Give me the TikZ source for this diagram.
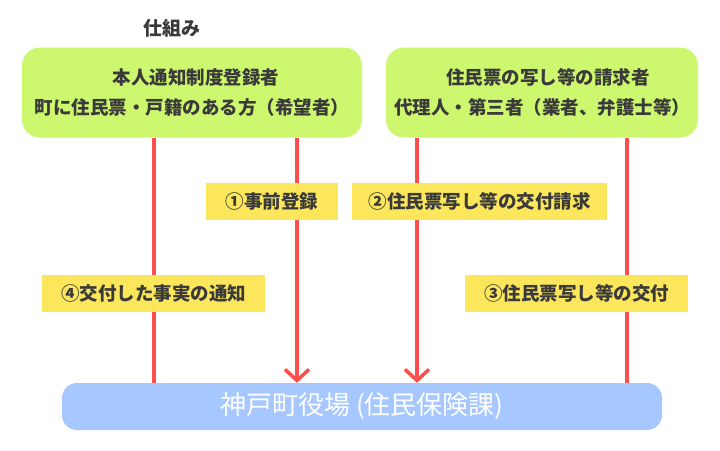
\documentclass[tikz,border=0pt]{standalone}
\usepackage{fontspec}
\setmainfont{Noto Sans CJK JP}
\usetikzlibrary{arrows.meta}
\definecolor{boxgreen}{HTML}{CCF76E}
\definecolor{labelyellow}{HTML}{FBE65C}
\definecolor{linered}{HTML}{FF4D4D}
\definecolor{boxblue}{HTML}{A6C8FF}
\definecolor{txt}{HTML}{3A3A3A}
\begin{document}
\begin{tikzpicture}[x=1pt,y=-1pt,
  greenbox/.style={fill=boxgreen, rounded corners=18pt, minimum height=90pt,
    align=center, font=\bfseries\fontsize{18.5}{30}\selectfont, text=txt, inner sep=0pt},
  bluebox/.style={fill=boxblue, rounded corners=15pt, minimum height=47pt,
    minimum width=600pt, font=\fontsize{26}{28}\selectfont, text=white, inner sep=0pt},
  labelbox/.style={fill=labelyellow, minimum height=37pt, inner sep=0pt,
    font=\bfseries\fontsize{18.5}{20}\selectfont, text=txt},
  redline/.style={draw=linered, line width=3.5pt},
  redarrow/.style={redline, -{Straight Barb[length=11pt,width=24pt]}},
  titletext/.style={font=\bfseries\fontsize{19}{22}\selectfont, text=txt}
]
\useasboundingbox (0,0) rectangle (720,450);
\node[titletext] (title) at (172,28) {仕組み};
\node[greenbox, minimum width=340pt] (gl) at (192,92.5) {\hspace{8pt}本人通知制度登録者\\町に住民票・戸籍のある方（希望者）};
\node[greenbox, minimum width=312pt] (gr) at (542,92.5) {\hspace{12pt}住民票の写し等の請求者\\代理人・第三者（業者、弁護士等）};
\node[bluebox] (bl) at (362,406.5) {神戸町役場 (住民保険課)\hspace{16pt}};
% connectors
\coordinate (a1) at (154,0);
\coordinate (a2) at (297,0);
\coordinate (a3) at (417,0);
\coordinate (a4) at (627,0);
\draw[redline] (gl.south -| a1) -- (bl.north -| a1);
\draw[redarrow] (gl.south -| a2) -- (bl.north -| a2);
\draw[redarrow] (gr.south -| a3) -- (bl.north -| a3);
\draw[redline] (gr.south -| a4) -- (bl.north -| a4);
% labels
\node[labelbox, minimum width=132pt] (l1) at (272,201.5) {①事前登録};
\node[labelbox, minimum width=255pt] (l2) at (479.5,201.5) {②住民票写し等の交付請求};
\node[labelbox, minimum width=223pt] (l4) at (153.5,293) {④交付した事実の通知};
\node[labelbox, minimum width=223pt] (l3) at (576.5,293) {③住民票写し等の交付};
\end{tikzpicture}
\end{document}
